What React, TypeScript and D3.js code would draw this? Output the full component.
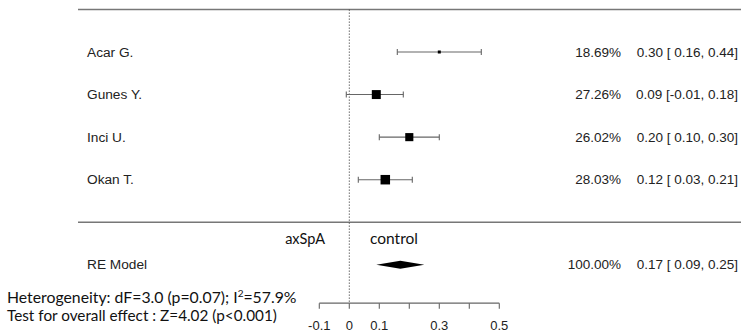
import React from "react";
import * as d3 from "d3";

const studies = ["Acar G.", "Gunes Y.", "Inci U.", "Okan T."];
const estimates = [0.30, 0.09, 0.20, 0.12];
const lowers = [0.16, -0.01, 0.10, 0.03];
const uppers = [0.44, 0.18, 0.30, 0.21];
const weights = [18.69, 27.26, 26.02, 28.03];
const reLabel = "RE Model";
const reEstimate = 0.17;
const reLower = 0.09;
const reUpper = 0.25;
const reWeight = 100.0;
const axisTicks = [-0.1, 0, 0.1, 0.2, 0.3, 0.4, 0.5];
const axisTickLabels = ["-0.1", "0", "0.1", "", "0.3", "", "0.5"];
const leftLabel = "axSpA";
const rightLabel = "control";
const hetText = "Heterogeneity: dF=3.0 (p=0.07); I";
const hetSup = "2";
const hetRest = "=57.9%";
const testText = "Test for overall effect : Z=4.02 (p<0.001)";

const W = 741;
const H = 334;

function fmt(v: number) {
  const s = v.toFixed(2);
  return v < 0 ? s : " " + s;
}

export default function App() {
  const x = d3.scaleLinear().domain([-0.1, 0.5]).range([319.3, 499.3]);
  // metafor-style row coordinates: studies k..1, line at 0, RE at -1
  const y = d3.scaleLinear().domain([4, -2]).range([52, 307.4]);
  const k = studies.length;
  const rowY = (i: number) => y(k - i);
  const wMin = d3.min(weights) as number;
  const wMax = d3.max(weights) as number;
  const size = d3.scaleLinear().domain([wMin, wMax]).range([3, 9.5]);
  const gray = "#666";
  const arial = "'Liberation Sans', Arial, sans-serif";
  const cal = "Lato, 'Open Sans', sans-serif";
  const txt = "#222";
  const axisY = y(-1.9);
  const xLeft = 78;

  return (
    <svg
      width={W}
      height={H}
      style={{ position: "absolute", left: 0, top: 0, background: "#fff" }}
    >
      {/* top and separator lines */}
      <line x1={xLeft} x2={W} y1={y(5)} y2={y(5)} stroke="#777" strokeWidth={1.5} />
      <line x1={xLeft} x2={W} y1={y(0)} y2={y(0)} stroke="#777" strokeWidth={1.5} />
      {/* reference line at 0 */}
      <line
        x1={x(0)}
        x2={x(0)}
        y1={y(5)}
        y2={axisY}
        stroke="#444"
        strokeWidth={0.8}
        strokeDasharray="1.5,1.5"
      />
      {studies.map((s, i) => {
        const cy = rowY(i);
        const sz = size(weights[i]);
        return (
          <g key={s}>
            <text x={87} y={cy + 4.5} fontFamily={arial} fontSize={13.7} fill={txt}>
              {s}
            </text>
            <line x1={x(lowers[i])} x2={x(uppers[i])} y1={cy} y2={cy} stroke={gray} strokeWidth={1.1} />
            <line x1={x(lowers[i])} x2={x(lowers[i])} y1={cy - 3} y2={cy + 3} stroke={gray} strokeWidth={1.1} />
            <line x1={x(uppers[i])} x2={x(uppers[i])} y1={cy - 3} y2={cy + 3} stroke={gray} strokeWidth={1.1} />
            <rect x={x(estimates[i]) - sz / 2} y={cy - sz / 2} width={sz} height={sz} fill="#000" />
            <text x={621} y={cy + 4.5} fontFamily={arial} fontSize={13.5} fill={txt} textAnchor="end">
              {weights[i].toFixed(2) + "%"}
            </text>
            <text x={738} y={cy + 4.5} fontFamily={arial} fontSize={13.5} fill={txt} textAnchor="end" style={{ whiteSpace: "pre" }}>
              {`${estimates[i].toFixed(2)} [${fmt(lowers[i])},${fmt(uppers[i])}]`}
            </text>
          </g>
        );
      })}
      {/* direction labels */}
      <text x={325} y={244} fontFamily={cal} fontSize={14.5} fill="#111" textAnchor="end">
        {leftLabel}
      </text>
      <text x={370} y={244} fontFamily={cal} fontSize={15.5} fill="#111">
        {rightLabel}
      </text>
      {/* RE model */}
      <text x={87} y={y(-1) + 4.5} fontFamily={arial} fontSize={13.7} fill={txt}>
        {reLabel}
      </text>
      <path
        d={`M${x(reLower)},${y(-1)} L${x(reEstimate)},${y(-1) - 4} L${x(reUpper)},${y(-1)} L${x(reEstimate)},${y(-1) + 4} Z`}
        fill="#000"
      />
      <text x={621} y={y(-1) + 4.5} fontFamily={arial} fontSize={13.5} fill={txt} textAnchor="end">
        {reWeight.toFixed(2) + "%"}
      </text>
      <text x={738} y={y(-1) + 4.5} fontFamily={arial} fontSize={13.5} fill={txt} textAnchor="end" style={{ whiteSpace: "pre" }}>
        {`${reEstimate.toFixed(2)} [${fmt(reLower)},${fmt(reUpper)}]`}
      </text>
      {/* axis */}
      <line x1={x(axisTicks[0])} x2={x(axisTicks[axisTicks.length - 1])} y1={axisY} y2={axisY} stroke={gray} strokeWidth={1.1} />
      {axisTicks.map((t, i) => (
        <g key={t}>
          <line x1={x(t)} x2={x(t)} y1={axisY} y2={axisY + 5.5} stroke={gray} strokeWidth={1.1} />
          <text x={x(t)} y={330} fontFamily={arial} fontSize={13} fill={txt} textAnchor="middle">
            {axisTickLabels[i]}
          </text>
        </g>
      ))}
      {/* heterogeneity text */}
      <text x={7} y={303} fontFamily={cal} fontSize={15.8} fill="#111">
        {hetText}
        <tspan fontSize={10} dy={-6}>{hetSup}</tspan>
        <tspan dy={6}>{hetRest}</tspan>
      </text>
      <text x={7} y={321} fontFamily={cal} fontSize={15.3} fill="#111">
        {testText}
      </text>
    </svg>
  );
}
